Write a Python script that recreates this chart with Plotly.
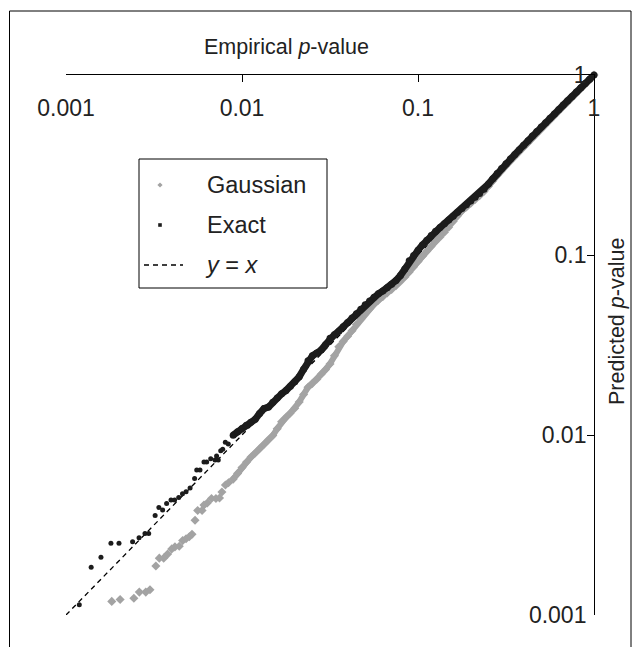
import plotly.graph_objects as go

# ---------------- data ----------------
tick_vals = [0.001, 0.01, 0.1, 1]
tick_text = ["0.001", "0.01", "0.1", "1"]

# sparse low tail, Exact test
exact_tail_x = [0.00119, 0.00139, 0.00158, 0.00180, 0.00200, 0.00239, 0.00260, 0.00281,
                0.00295, 0.00321, 0.00337, 0.00354, 0.00373, 0.00395, 0.00414, 0.00437,
                0.00459, 0.00481, 0.00507, 0.00538, 0.00553, 0.00577, 0.00608, 0.00630,
                0.00664, 0.00703, 0.00733, 0.00717, 0.00757, 0.00777, 0.00804, 0.00836]
exact_tail_y = [0.00114, 0.00184, 0.00209, 0.00250, 0.00250, 0.00255, 0.00269, 0.00284,
                0.00284, 0.00357, 0.00395, 0.00383, 0.00416, 0.00436, 0.00436, 0.00450,
                0.00472, 0.00484, 0.00508, 0.00574, 0.00639, 0.00639, 0.00708, 0.00708,
                0.00738, 0.00726, 0.00726, 0.00764, 0.00818, 0.00833, 0.00910, 0.00891]

# sparse low tail, Gaussian approximation
gauss_tail_x = [0.00182, 0.00203, 0.00243, 0.00261, 0.00284, 0.00300, 0.00324, 0.00339,
                0.00359, 0.00378, 0.00399, 0.00416, 0.00440, 0.00460, 0.00481, 0.00502,
                0.00520, 0.00541, 0.00560, 0.00593, 0.00608, 0.00635, 0.00671, 0.00711,
                0.00745, 0.00769, 0.00805, 0.00838]
gauss_tail_y = [0.00119, 0.00122, 0.00124, 0.00134, 0.00134, 0.00138, 0.00187, 0.00207,
                0.00207, 0.00218, 0.00233, 0.00239, 0.00241, 0.00259, 0.00265, 0.00272,
                0.00281, 0.00336, 0.00381, 0.00381, 0.00408, 0.00419, 0.00444, 0.00444,
                0.00447, 0.00482, 0.00527, 0.00543]

# dense body: empirical p-values
body_x = [0.00891, 0.00944, 0.0100, 0.01059, 0.01122, 0.01189, 0.01259, 0.01334, 0.01413, 0.01496,
          0.01585, 0.01679, 0.01778, 0.01884, 0.01995, 0.02113, 0.02239, 0.02371, 0.02512, 0.02661,
          0.02818, 0.02985, 0.03162, 0.0335, 0.03548, 0.03758, 0.03981, 0.04217, 0.04467, 0.04732,
          0.05012, 0.05309, 0.05623, 0.05957, 0.0631, 0.06683, 0.07079, 0.07499, 0.07943, 0.08414,
          0.08913, 0.09441, 0.1, 0.1059, 0.1122, 0.1189, 0.1259, 0.1334, 0.1413, 0.1496,
          0.1585, 0.1679, 0.1778, 0.1884, 0.1995, 0.2113, 0.2239, 0.2371, 0.2512, 0.2661,
          0.2818, 0.2985, 0.3162, 0.335, 0.3548, 0.3758, 0.3981, 0.4217, 0.4467, 0.4732,
          0.5012, 0.5309, 0.5623, 0.5957, 0.631, 0.6683, 0.7079, 0.7499, 0.7943, 0.8414,
          0.8913, 0.9441, 1.0]

exact_body_y = [0.00998, 0.01042, 0.01086, 0.01132, 0.01178, 0.01222, 0.01318, 0.01403, 0.01429, 0.01521,
                0.01607, 0.01694, 0.01766, 0.01866, 0.01977, 0.02104, 0.02317, 0.02588, 0.02754, 0.02851,
                0.02965, 0.03177, 0.03443, 0.03606, 0.03776, 0.0399, 0.04217, 0.04467, 0.04721, 0.0500,
                0.05284, 0.05559, 0.05834, 0.06095, 0.0631, 0.06577, 0.06887, 0.07211, 0.07691, 0.08356,
                0.0929, 0.09931, 0.1062, 0.1135, 0.1208, 0.1285, 0.1355, 0.1422, 0.1493, 0.1567,
                0.1641, 0.1726, 0.1811, 0.1901, 0.1995, 0.2094, 0.2198, 0.2317, 0.2477, 0.2649,
                0.2838, 0.3027, 0.3214, 0.3412, 0.3614, 0.3837, 0.4074, 0.4315, 0.4581, 0.4853,
                0.514, 0.5433, 0.5754, 0.6081, 0.6442, 0.6808, 0.7194, 0.7603, 0.8035, 0.8492,
                0.8974, 0.9462, 1.0]

gauss_body_y = [0.00569, 0.00612, 0.00659, 0.00706, 0.00753, 0.00794, 0.0084, 0.00887, 0.0094, 0.00993,
                0.01084, 0.01186, 0.01253, 0.01324, 0.01409, 0.01524, 0.01679, 0.01841, 0.01936, 0.02042,
                0.02178, 0.02312, 0.02483, 0.02754, 0.0309, 0.03311, 0.0354, 0.03793, 0.04111, 0.04416,
                0.04732, 0.05023, 0.05321, 0.0561, 0.05875, 0.06152, 0.06442, 0.06745, 0.07129, 0.07551,
                0.08054, 0.0861, 0.09204, 0.0984, 0.105, 0.1117, 0.1189, 0.1259, 0.1337, 0.1429,
                0.1538, 0.1652, 0.1762, 0.1849, 0.1941, 0.2037, 0.2138, 0.2254, 0.241, 0.2582,
                0.2767, 0.2951, 0.3133, 0.3327, 0.3524, 0.3741, 0.3972, 0.4207, 0.4467, 0.4732,
                0.5012, 0.5309, 0.5623, 0.5957, 0.631, 0.6683, 0.7063, 0.7482, 0.7925, 0.8395,
                0.8913, 0.9441, 1.0]

identity_x = [0.001, 1.0]
identity_y = [0.001, 1.0]

assert len(body_x) == len(exact_body_y) == len(gauss_body_y)
assert len(exact_tail_x) == len(exact_tail_y)
assert len(gauss_tail_x) == len(gauss_tail_y)

# ---------------- styling ----------------
FONT = "Arial, 'Liberation Sans', Helvetica, sans-serif"
GRAY = "#a3a3a3"
BLACK = "#1c1c1c"
TXT = "#222"

fig = go.Figure()

fig.add_trace(go.Scatter(x=identity_x, y=identity_y, mode="lines",
                         line=dict(color="black", width=1.3, dash="5px,4px"),
                         showlegend=False, hoverinfo="skip"))
fig.add_trace(go.Scatter(x=gauss_tail_x, y=gauss_tail_y, mode="markers", name="Gaussian",
                         marker=dict(symbol="diamond", size=7, color=GRAY),
                         showlegend=False, cliponaxis=False))
fig.add_trace(go.Scatter(x=body_x, y=gauss_body_y, mode="lines+markers", name="Gaussian",
                         line=dict(color=GRAY, width=6),
                         marker=dict(symbol="diamond", size=7, color=GRAY),
                         showlegend=False, cliponaxis=False))
fig.add_trace(go.Scatter(x=exact_tail_x, y=exact_tail_y, mode="markers", name="Exact",
                         marker=dict(symbol="circle", size=5, color=BLACK),
                         showlegend=False, cliponaxis=False))
fig.add_trace(go.Scatter(x=body_x, y=exact_body_y, mode="lines+markers", name="Exact",
                         line=dict(color=BLACK, width=7),
                         marker=dict(symbol="circle", size=7, color=BLACK),
                         showlegend=False, cliponaxis=False))

# plot area: x 66..594 px, y 75..615 px
L, R, T, B = 66, 594, 75, 615
W, H = 637, 647


def px(xp):
    return (xp - L) / (R - L)


def py(yp):
    return (B - yp) / (B - T)


axis_common = dict(
    type="log", range=[-3, 0], tickvals=tick_vals, ticktext=tick_text,
    showgrid=False, zeroline=False, showline=True, linecolor="black", linewidth=1.3,
    ticks="inside", ticklen=7, tickwidth=1.3, tickcolor="black",
    ticklabelposition="inside", ticklabeloverflow="allow",
    tickfont=dict(family=FONT, size=23, color=TXT),
)

fig.update_layout(
    width=W, height=H,
    margin=dict(l=L, r=W - R, t=T, b=H - B),
    paper_bgcolor="white", plot_bgcolor="white",
    font=dict(family=FONT, size=22, color=TXT),
    showlegend=False,
    xaxis=dict(side="top", ticklabelstandoff=19, **axis_common),
    yaxis=dict(side="right", ticklabelstandoff=2, **axis_common),
)

shapes = []
# outer frame
shapes.append(dict(type="rect", xref="paper", yref="paper",
                   x0=px(9.5), x1=px(631), y0=py(660), y1=py(11),
                   line=dict(color="black", width=1)))
# legend box
shapes.append(dict(type="rect", xref="paper", yref="paper",
                   x0=px(139), x1=px(327), y0=py(288), y1=py(159),
                   line=dict(color="black", width=1), fillcolor="white", layer="above"))
# legend symbols
shapes.append(dict(type="path", xref="paper", yref="paper",
                   xsizemode="pixel", ysizemode="pixel",
                   xanchor=px(160), yanchor=py(185),
                   path="M -2.6 0 L 0 2.6 L 2.6 0 L 0 -2.6 Z",
                   fillcolor=GRAY, line=dict(width=0), layer="above"))
shapes.append(dict(type="rect", xref="paper", yref="paper",
                   xsizemode="pixel", ysizemode="pixel",
                   xanchor=px(160), yanchor=py(225),
                   x0=-1.8, x1=1.8, y0=-1.8, y1=1.8,
                   fillcolor=BLACK, line=dict(width=0), layer="above"))
shapes.append(dict(type="line", xref="paper", yref="paper",
                   x0=px(144), x1=px(183), y0=py(265), y1=py(265),
                   line=dict(color="black", width=1.3, dash="5px,4px"), layer="above"))
fig.update_layout(shapes=shapes)

LEG = 23.5
annotations = [
    dict(text="Empirical <i>p</i>-value", xref="paper", yref="paper",
         x=px(286), y=py(47), showarrow=False, xanchor="center", yanchor="middle",
         font=dict(family=FONT, size=21.5, color=TXT)),
    dict(text="Predicted <i>p</i>-value", xref="paper", yref="paper",
         x=px(617), y=py(322), showarrow=False, textangle=-90,
         xanchor="center", yanchor="middle",
         font=dict(family=FONT, size=21.5, color=TXT)),
    dict(text="Gaussian", xref="paper", yref="paper", x=px(205), y=py(185),
         showarrow=False, xanchor="left", yanchor="middle",
         font=dict(family=FONT, size=LEG, color=TXT)),
    dict(text="Exact", xref="paper", yref="paper", x=px(205), y=py(225),
         showarrow=False, xanchor="left", yanchor="middle",
         font=dict(family=FONT, size=LEG, color=TXT)),
    dict(text="<i>y</i> = <i>x</i>", xref="paper", yref="paper", x=px(203), y=py(265),
         showarrow=False, xanchor="left", yanchor="middle",
         font=dict(family=FONT, size=LEG, color=TXT)),
]
fig.update_layout(annotations=annotations)

fig.write_html("out.html", config={"displayModeBar": False},
               post_script="document.body.style.margin='0';")
